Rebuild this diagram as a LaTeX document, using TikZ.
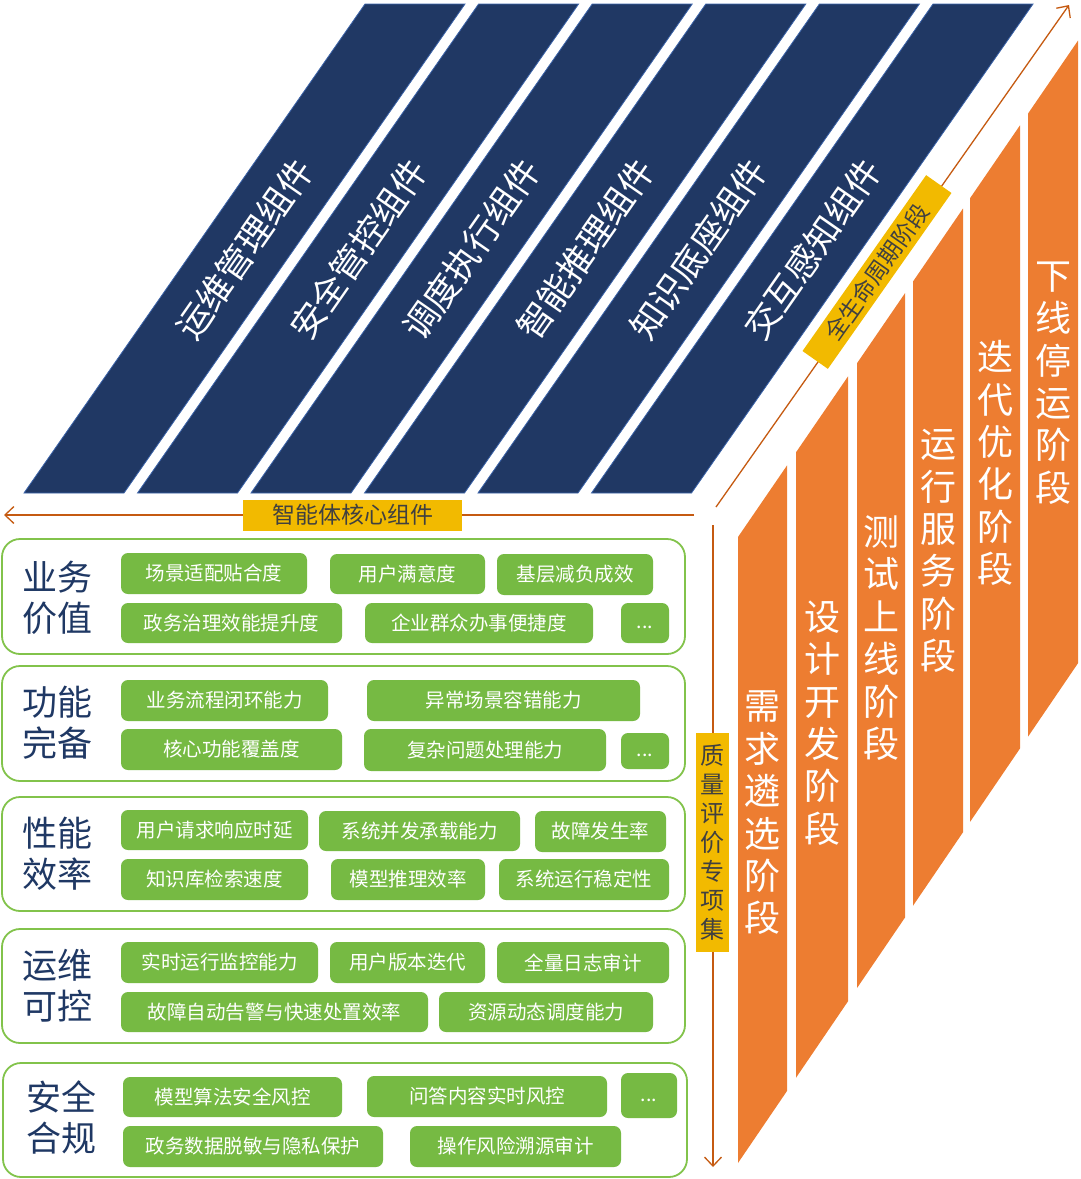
\documentclass[tikz,border=0pt]{standalone}
\usepackage{fontspec}
\setmainfont{Noto Sans CJK SC}
\usetikzlibrary{arrows.meta}
\definecolor{navy}{RGB}{32,56,100}
\definecolor{navyedge}{RGB}{60,100,170}
\definecolor{orng}{RGB}{237,125,49}
\definecolor{pillgreen}{RGB}{118,186,67}
\definecolor{rowgreen}{RGB}{130,195,75}
\definecolor{labelnavy}{RGB}{31,56,100}
\definecolor{gold}{RGB}{242,186,0}
\definecolor{arrowc}{RGB}{197,90,17}
\definecolor{darktext}{RGB}{64,64,64}
\newcommand\pill[6]{%
  \fill[pillgreen,rounded corners=7pt] (#2,#3) rectangle (#4,#5);
  \node[pilltext] (#1) at ({(#2+#4)/2},{(#3+#5)/2}) {#6};}
\newcommand\moredots{\vphantom{场}\raisebox{1.5pt}{...}}
\begin{document}
\begin{tikzpicture}[x=1pt,y=-1pt,
  para/.style={fill=navy,draw=navyedge,line width=0.8pt},
  paratext/.style={text=white,font=\fontsize{35}{40}\selectfont,rotate=55.1,inner sep=0},
  stagebar/.style={fill=orng},
  stagetext/.style={text=white,align=center,font=\fontsize{36}{42.4}\selectfont,inner sep=0},
  rowbox/.style={draw=rowgreen,line width=1.8pt,rounded corners=18pt,fill=white},
  rowlabel/.style={text=labelnavy,align=center,font=\fontsize{35}{41}\selectfont,inner sep=0},
  pilltext/.style={text=white,font=\fontsize{19.5}{22}\selectfont,inner sep=0},
  axis/.style={draw=arrowc,line width=1.3pt,-{Straight Barb[length=9pt,width=17pt,line width=1.3pt]}},
  tag/.style={fill=gold,text=darktext,inner sep=0,font=\fontsize{23}{29}\selectfont}
]
\useasboundingbox (0,0) rectangle (1080,1179);

% ---- blue component parallelograms
\foreach \i/\lab in {0/运维管理组件,1/安全管控组件,2/调度执行组件,3/智能推理组件,4/知识底座组件,5/交互感知组件}{
  \pgfmathsetmacro\bl{24+113.5*\i}
  \pgfmathsetmacro\tl{365+113.6*\i}
  \path[para] (\bl,493) -- ({\bl+100},493) -- ({\tl+100},4) -- (\tl,4) -- cycle;
  \node[paratext] (comp\i) at ({(\bl+\tl)/2+50},249) {\lab};
}

% ---- orange lifecycle bars
\foreach \L/\R/\lab/\ty [count=\i] in {
  738/787/{需\\求\\遴\\选\\阶\\段}/813,
  796/848/{设\\计\\开\\发\\阶\\段}/723,
  857/905/{测\\试\\上\\线\\阶\\段}/638,
  913/963/{运\\行\\服\\务\\阶\\段}/551,
  970/1020/{迭\\代\\优\\化\\阶\\段}/463,
  1028/1078/{下\\线\\停\\运\\阶\\段}/383}{
  \pgfmathsetmacro\tL{537-1.46*(\L-738)}
  \pgfmathsetmacro\tR{537-1.46*(\R-738)}
  \pgfmathsetmacro\bL{1163-1.47*(\L-738)}
  \pgfmathsetmacro\bR{1163-1.47*(\R-738)}
  \path[stagebar] (\L,\tL) -- (\R,\tR) -- (\R,\bR) -- (\L,\bL) -- cycle;
  \node[stagetext] (stage\i) at ({(\L+\R)/2},\ty) {\lab};
}

% ---- axes
\coordinate (hstart) at (694,515);
\coordinate (hend) at (4,515);
\coordinate (vstart) at (713,525);
\coordinate (vend) at (713,1167);
\coordinate (dstart) at (716,507);
\coordinate (dend) at (1069,5);
\draw[axis] (hstart) -- (hend);
\draw[axis] (vstart) -- (vend);
\draw[axis] (dstart) -- (dend);
\node[tag,minimum width=219,minimum height=31] (tagx) at (352.5,515) {智能体核心组件};
\node[tag,minimum width=215,minimum height=31,rotate=54.9] (tagd) at (877,272) {全生命周期阶段};
\node[tag,minimum width=33,minimum height=219,align=center,font=\fontsize{24}{29}\selectfont] (tagv) at (712.5,842.5) {质\\量\\评\\价\\专\\项\\集};

% ---- quality rows
\draw[rowbox] (2,539) rectangle (685,654);
\draw[rowbox] (2,666) rectangle (685,781);
\draw[rowbox] (2,797) rectangle (685,911);
\draw[rowbox] (2,929) rectangle (685,1043);
\draw[rowbox] (3,1063) rectangle (687,1177);

\node[rowlabel] (r1) at (57.5,597.5) {业务\\价值};
\node[rowlabel] (r2) at (57.5,722.5) {功能\\完备};
\node[rowlabel] (r3) at (58,853.5) {性能\\效率};
\node[rowlabel] (r4) at (58,986) {运维\\可控};
\node[rowlabel] (r5) at (62,1117.5) {安全\\合规};

% row 1
\pill{p11}{121}{553}{307}{594}{场景适配贴合度}
\pill{p12}{330}{554}{485}{594}{用户满意度}
\pill{p13}{497}{554}{653}{595}{基层减负成效}
\pill{p14}{121}{603}{342}{643}{政务治理效能提升度}
\pill{p15}{365}{603}{593}{643}{企业群众办事便捷度}
\pill{p16}{621}{603}{669}{643}{\moredots}
% row 2
\pill{p21}{121}{680}{328}{721}{业务流程闭环能力}
\pill{p22}{367}{680}{640}{721}{异常场景容错能力}
\pill{p23}{121}{729}{342}{770}{核心功能覆盖度}
\pill{p24}{364}{729}{606}{771}{复杂问题处理能力}
\pill{p25}{621}{733}{669}{769}{\moredots}
% row 3
\pill{p31}{121}{810}{308}{850}{用户请求响应时延}
\pill{p32}{319}{811}{520}{851}{系统并发承载能力}
\pill{p33}{535}{811}{666}{852}{故障发生率}
\pill{p34}{121}{859}{308}{900}{知识库检索速度}
\pill{p35}{331}{859}{485}{900}{模型推理效率}
\pill{p36}{499}{859}{669}{900}{系统运行稳定性}
% row 4
\pill{p41}{121}{942}{318}{983}{实时运行监控能力}
\pill{p42}{330}{942}{485}{983}{用户版本迭代}
\pill{p43}{497}{942}{669}{983}{全量日志审计}
\pill{p44}{121}{992}{428}{1032}{故障自动告警与快速处置效率}
\pill{p45}{439}{992}{653}{1032}{资源动态调度能力}
% row 5
\pill{p51}{123}{1077}{342}{1117}{模型算法安全风控}
\pill{p52}{367}{1076}{607}{1117}{问答内容实时风控}
\pill{p53}{621}{1073}{677}{1118}{\moredots}
\pill{p54}{123}{1126}{383}{1167}{政务数据脱敏与隐私保护}
\pill{p55}{410}{1126}{621}{1167}{操作风险溯源审计}
\end{tikzpicture}
\end{document}
